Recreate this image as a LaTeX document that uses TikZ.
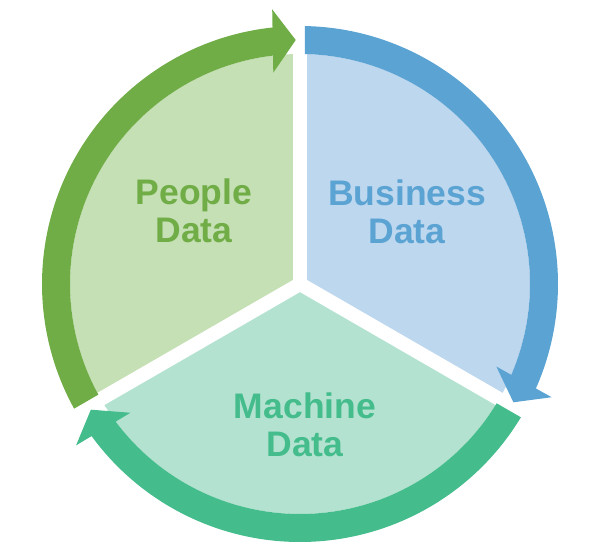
\documentclass[tikz,border=0pt]{standalone}
\usepackage{fontspec}
\setmainfont{Liberation Sans}
\definecolor{busfill}{HTML}{BDD7EE}
\definecolor{macfill}{HTML}{B3E3D0}
\definecolor{pplfill}{HTML}{C5E0B4}
\definecolor{busarrow}{HTML}{5BA3D3}
\definecolor{macarrow}{HTML}{44BC8C}
\definecolor{pplarrow}{HTML}{70AD47}
\begin{document}
\begin{tikzpicture}[x=1pt,y=1pt,
  sectortext/.style={align=center,inner sep=0pt,font=\fontsize{35.5}{37.5}\selectfont\bfseries}]
\useasboundingbox (-300,-276) rectangle (295,284);
% the three sectors
\fill[busfill] (0,0) -- (90:230) arc[start angle=90,end angle=-30,radius=230] -- cycle;
\fill[macfill] (0,0) -- (-30:230) arc[start angle=-30,end angle=-150,radius=230] -- cycle;
\fill[pplfill] (0,0) -- (210:230) arc[start angle=210,end angle=90,radius=230] -- cycle;
\foreach \a in {90,210,330}
  \draw[white,line width=14pt] (0,0) -- (\a:232);
% circular arrows, clockwise
\foreach \s/\t/\c in {90/-29/busarrow,330/211/macarrow,210/91/pplarrow}
  \fill[\c] ({\s-asin(5/258)}:258) arc[start angle={\s-asin(5/258)},end angle={\t+asin(23/258)},radius=258]
    -- ({\t+asin(23/276)}:276) -- (\t:244) -- ({\t+asin(23/213)}:213)
    -- ({\t+asin(23/230)}:230) arc[start angle={\t+asin(23/230)},end angle={\s-asin(5/230)},radius=230] -- cycle;
\node[sectortext,text=busarrow] (business) at (107,72) {Business\\Data};
\node[sectortext,text=pplarrow] (people) at (-106,73) {People\\Data};
\node[sectortext,text=macarrow] (machine) at (5,-141) {Machine\\Data};
\end{tikzpicture}
\end{document}
